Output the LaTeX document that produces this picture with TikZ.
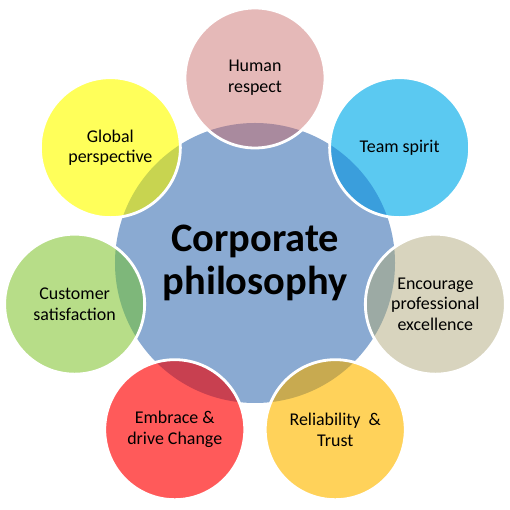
\documentclass[tikz,border=0pt]{standalone}
\usepackage{fontspec}
\setmainfont{Carlito}
\definecolor{hubblue}{RGB}{138,170,210}
\definecolor{rosepink}{RGB}{229,185,184}
\definecolor{rosedark}{RGB}{169,138,158}
\definecolor{skycyan}{RGB}{91,201,241}
\definecolor{skydark}{RGB}{58,158,220}
\definecolor{sandtan}{RGB}{216,212,190}
\definecolor{sanddark}{RGB}{156,170,164}
\definecolor{goldyel}{RGB}{255,210,90}
\definecolor{golddark}{RGB}{200,170,80}
\definecolor{corered}{RGB}{255,90,90}
\definecolor{coredark}{RGB}{200,64,80}
\definecolor{leafgreen}{RGB}{183,221,136}
\definecolor{leafdark}{RGB}{126,183,122}
\definecolor{lemonyel}{RGB}{255,255,90}
\definecolor{lemondark}{RGB}{200,212,80}
\begin{document}
\begin{tikzpicture}[petal/.style={circle,draw=white,line width=1.6pt,minimum size=2.8cm,inner sep=0pt,align=center,font=\fontsize{10.2}{11.8}\selectfont}]
	\useasboundingbox (-5.1,-4.94) rectangle (5.1,5.26);
	\node[circle,fill=hubblue,minimum size=5.6cm,inner sep=0pt,align=center,font=\fontsize{23}{24}\bfseries] (hub) at (0,0) {Corporate\\philosophy};
	\foreach \ang/\col/\ovl/\txt [count=\i] in {90/rosepink/rosedark/{Human\\respect},
			38.57/skycyan/skydark/{Team spirit},
			-12.86/sandtan/sanddark/{Encourage\\professional\\excellence},
			-64.29/goldyel/golddark/{Reliability~~\&\\Trust},
			-115.71/corered/coredark/{Embrace \&\\drive Change},
			-167.14/leafgreen/leafdark/{Customer\\satisfaction},
			141.43/lemonyel/lemondark/{Global\\perspective}}{
		\fill[\col] (\ang:3.7cm) circle(1.4cm);
		\begin{scope}
			\clip (hub.center) circle(2.8cm);
			\fill[\ovl] (\ang:3.7cm) circle(1.4cm);
		\end{scope}
		\node[petal] (petal\i) at (\ang:3.7cm) {\txt};
	}
\end{tikzpicture}
\end{document}
